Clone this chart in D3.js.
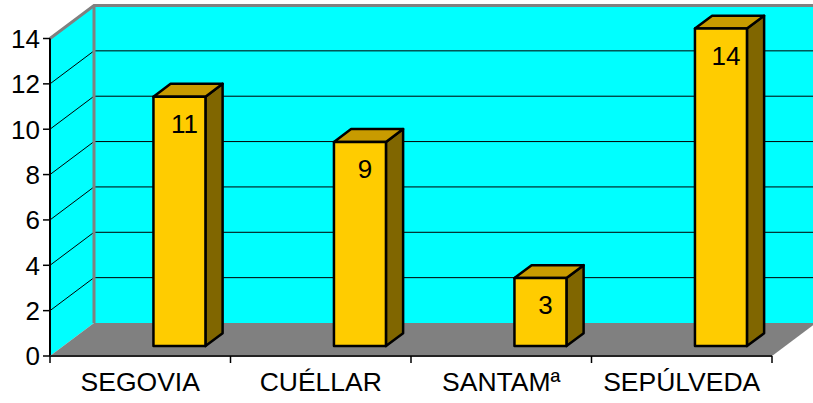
<!DOCTYPE html>
<html>
<head>
<meta charset="utf-8">
<script src="https://cdn.jsdelivr.net/npm/d3@7/dist/d3.min.js"></script>
<style>
  body { margin: 0; background: #fff; }
  svg { display: block; font-family: Arial, "Liberation Sans", sans-serif; }
</style>
</head>
<body>
<div id="chart"></div>
<script>
// data
var categories = ["SEGOVIA", "CUÉLLAR", "SANTAMª", "SEPÚLVEDA"];
var values = [11, 9, 3, 14];
var yTicks = [0, 2, 4, 6, 8, 10, 12, 14];

var width = 813, height = 403;
var DX = 44, DY = 33;          // depth of the 3d box
var barD0 = 0.3, barD1 = 0.69;  // bar front / back depth
var barW = 52;

var svg = d3.select("#chart").append("svg")
  .attr("width", width).attr("height", height);

var x = d3.scaleBand().domain(categories).range([50, 772]).padding(0);
var y = d3.scaleLinear().domain([0, 14]).range([356, 38.5]);

// project a point on the front plane back by depth d (0..1)
function p(px, py, d) { return [px + DX * d, py - DY * d]; }
function poly(pts) { return pts.map(function (q) { return q.join(","); }).join(" "); }

var x0 = x.range()[0], x1 = x.range()[1];
var yb = y(0), yt = y(14);

// side wall
svg.append("polygon")
  .attr("points", poly([[x0, yt], p(x0, yt, 1), p(x0, yb, 1), [x0, yb]]))
  .attr("fill", "#00ffff");
// back wall
svg.append("polygon")
  .attr("points", poly([p(x0, yt, 1), p(x1, yt, 1), p(x1, yb, 1), p(x0, yb, 1)]))
  .attr("fill", "#00ffff");
// floor
svg.append("polygon")
  .attr("points", poly([[x0, yb], [x1, yb], p(x1, yb, 1), p(x0, yb, 1)]))
  .attr("fill", "#808080");

// gridlines
var grid = yTicks.filter(function (t) { return t > 0 && t < 14; });
svg.selectAll(".gback").data(grid).enter().append("line")
  .attr("x1", function (t) { return p(x0, y(t), 1)[0]; })
  .attr("y1", function (t) { return p(x0, y(t), 1)[1]; })
  .attr("x2", function (t) { return p(x1, y(t), 1)[0]; })
  .attr("y2", function (t) { return p(x1, y(t), 1)[1]; })
  .attr("stroke", "#000").attr("stroke-width", 1);
svg.selectAll(".gside").data(grid).enter().append("line")
  .attr("x1", x0).attr("y1", function (t) { return y(t); })
  .attr("x2", function (t) { return p(x0, y(t), 1)[0]; })
  .attr("y2", function (t) { return p(x0, y(t), 1)[1]; })
  .attr("stroke", "#000").attr("stroke-width", 1);

// wall edges (gray)
svg.append("polyline")
  .attr("points", poly([[x0, yt], p(x0, yt, 1), p(x1, yt, 1)]))
  .attr("fill", "none").attr("stroke", "#808080").attr("stroke-width", 3)
  .attr("stroke-linejoin", "miter");
svg.append("line")
  .attr("x1", p(x0, yt, 1)[0]).attr("y1", p(x0, yt, 1)[1])
  .attr("x2", p(x0, yb, 1)[0]).attr("y2", p(x0, yb, 1)[1])
  .attr("stroke", "#808080").attr("stroke-width", 3);

// bars
var bars = svg.selectAll(".bar").data(values).enter().append("g").attr("class", "bar");
function bx(i) { return x(categories[i]) + x.bandwidth() / 2; }
bars.append("polygon") // side
  .attr("points", function (v, i) {
    var r = bx(i) + barW;
    return poly([p(r, y(v), barD0), p(r, y(v), barD1), p(r, y(0), barD1), p(r, y(0), barD0)]);
  })
  .attr("fill", "#806600").attr("stroke", "#000").attr("stroke-width", 2.5)
  .attr("stroke-linejoin", "round");
bars.append("polygon") // top
  .attr("points", function (v, i) {
    var l = bx(i), r = l + barW;
    return poly([p(l, y(v), barD0), p(l, y(v), barD1), p(r, y(v), barD1), p(r, y(v), barD0)]);
  })
  .attr("fill", "#c89b00").attr("stroke", "#000").attr("stroke-width", 2.5)
  .attr("stroke-linejoin", "round");
bars.append("polygon") // front
  .attr("points", function (v, i) {
    var l = bx(i), r = l + barW;
    return poly([p(l, y(v), barD0), p(r, y(v), barD0), p(r, y(0), barD0), p(l, y(0), barD0)]);
  })
  .attr("fill", "#ffcc00").attr("stroke", "#000").attr("stroke-width", 2.5)
  .attr("stroke-linejoin", "round");

// value labels
bars.append("text")
  .attr("x", function (v, i) { return p(bx(i) + barW / 2, y(v), barD0)[0] + 5; })
  .attr("y", function (v, i) { return p(bx(i), y(v), barD0)[1] + 36; })
  .attr("text-anchor", "middle")
  .attr("font-size", 26)
  .attr("fill", "#000")
  .text(function (v) { return v; });

// axes
svg.append("line")
  .attr("x1", x0).attr("y1", yt).attr("x2", x0).attr("y2", yb)
  .attr("stroke", "#000").attr("stroke-width", 2);
svg.append("line")
  .attr("x1", x0).attr("y1", yb).attr("x2", x1).attr("y2", yb)
  .attr("stroke", "#222").attr("stroke-width", 2);

svg.selectAll(".ytick").data(yTicks).enter().append("line")
  .attr("x1", x0 - 7).attr("x2", x0)
  .attr("y1", function (t) { return y(t); }).attr("y2", function (t) { return y(t); })
  .attr("stroke", "#000").attr("stroke-width", 1.5);
svg.selectAll(".ylab").data(yTicks).enter().append("text")
  .attr("x", 40).attr("y", function (t) { return y(t); })
  .attr("dy", "0.36em")
  .attr("text-anchor", "end")
  .attr("font-size", 26)
  .text(function (t) { return t; });

var bounds = categories.map(function (c) { return x(c); }).concat([x1]);
svg.selectAll(".xtick").data(bounds).enter().append("line")
  .attr("x1", function (b) { return b; }).attr("x2", function (b) { return b; })
  .attr("y1", yb).attr("y2", yb + 7)
  .attr("stroke", "#000").attr("stroke-width", 1.5);
svg.selectAll(".xlab").data(categories).enter().append("text")
  .attr("x", function (c) { return x(c) + x.bandwidth() / 2; })
  .attr("y", 391)
  .attr("text-anchor", "middle")
  .attr("font-size", 26.5)
  .text(function (c) { return c; });
</script>
</body>
</html>
